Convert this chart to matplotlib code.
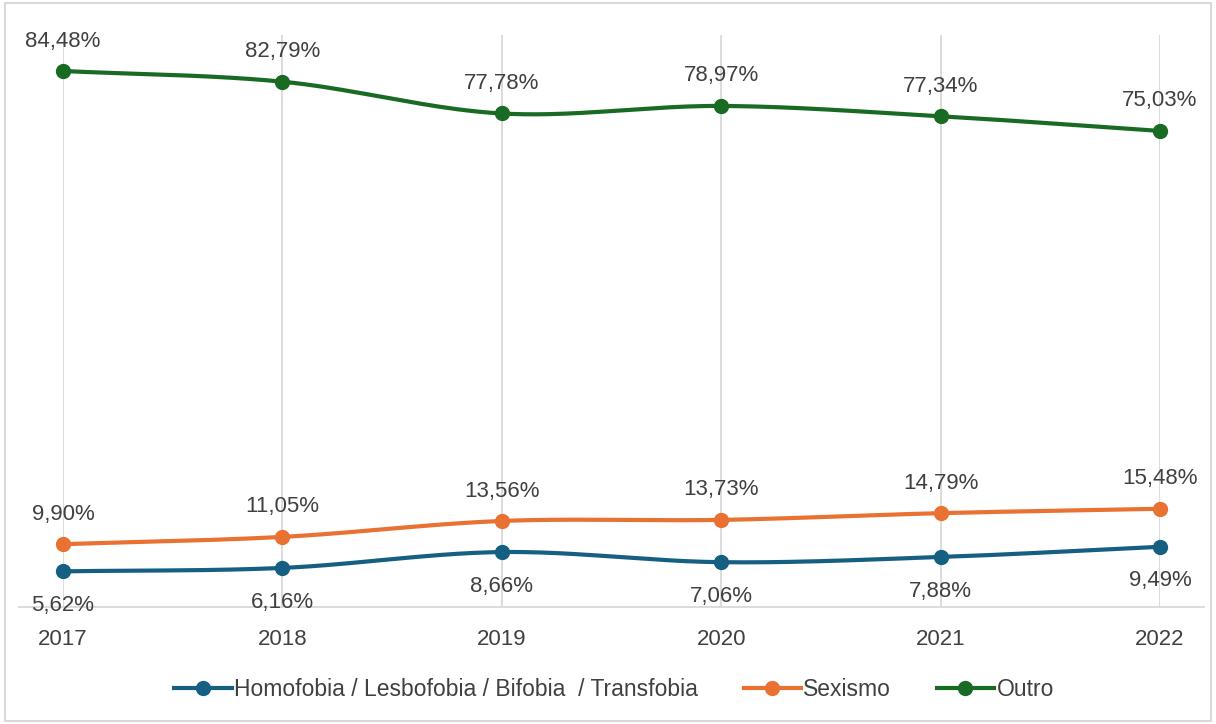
import numpy as np
import matplotlib
matplotlib.use("Agg")
from matplotlib import pyplot as plt

plt.rcParams['font.family'] = ['Liberation Sans', 'DejaVu Sans']

anos = ['2017', '2018', '2019', '2020', '2021', '2022']
homofobia = [5.62, 6.16, 8.66, 7.06, 7.88, 9.49]
sexismo = [9.90, 11.05, 13.56, 13.73, 14.79, 15.48]
outro = [84.48, 82.79, 77.78, 78.97, 77.34, 75.03]

nomes = ['Homofobia / Lesbofobia / Bifobia  / Transfobia', 'Sexismo', 'Outro']
cores = ['#156082', '#E97132', '#196B24']
texto = '#404040'


def suave(x, y, n=40):
    # curva tipo Catmull-Rom, como a linha suavizada do Excel
    x = np.asarray(x, float)
    y = np.asarray(y, float)
    px = np.concatenate([[2*x[0]-x[1]], x, [2*x[-1]-x[-2]]])
    py = np.concatenate([[2*y[0]-y[1]], y, [2*y[-1]-y[-2]]])
    xs, ys = [], []
    t = np.linspace(0, 1, n)
    for i in range(1, len(px)-2):
        for arr, out in ((px, xs), (py, ys)):
            p0, p1, p2, p3 = arr[i-1], arr[i], arr[i+1], arr[i+2]
            out.extend(0.5*((2*p1) + (-p0+p2)*t + (2*p0-5*p1+4*p2-p3)*t**2
                            + (-p0+3*p1-3*p2+p3)*t**3))
    return xs, ys


def fmt(v):
    return f'{v:.2f}%'.replace('.', ',')


fig = plt.figure(figsize=(12.16, 7.24), dpi=100)
ax = fig.add_axes([63/1216, 1-607/724, (1160-63)/1216, (607-35)/724])
x = np.arange(len(anos))

for serie, nome, cor in zip([homofobia, sexismo, outro], nomes, cores):
    sx, sy = suave(x, serie)
    ax.plot(sx, sy, color=cor, lw=3, clip_on=False, zorder=3)
    ax.plot(x, serie, 'o', color=cor, ms=10, clip_on=False, zorder=4)
    ax.plot([], [], '-o', color=cor, lw=3, ms=10, label=nome)

for i in x:
    ax.annotate(fmt(outro[i]), (i, outro[i]), xytext=(0, 14),
                textcoords='offset points', ha='center', va='bottom', fontsize=16,
                color=texto, zorder=5)
    ax.annotate(fmt(sexismo[i]), (i, sexismo[i]), xytext=(0, 14),
                textcoords='offset points', ha='center', va='bottom', fontsize=16,
                color=texto, zorder=5)
    ax.annotate(fmt(homofobia[i]), (i, homofobia[i]), xytext=(0, -17),
                textcoords='offset points', ha='center', va='top', fontsize=16,
                color=texto, zorder=5)

ax.set_xlim(0, 5)
ax.set_ylim(0, 90.15)
ax.set_xticks(x)
ax.set_xticklabels(anos, fontsize=16, color=texto)
ax.set_yticks([])
ax.tick_params(axis='x', length=0, pad=16)
ax.grid(axis='x', color='#D9D9D9', lw=1.3)
for s in ['top', 'left', 'right']:
    ax.spines[s].set_visible(False)
ax.spines['bottom'].set_color('#D9D9D9')
ax.spines['bottom'].set_linewidth(1.3)
ax.spines['bottom'].set_bounds(-0.2, 5.2)

fig.legend(loc='center', bbox_to_anchor=(614/1216, 1-690/724), ncol=3, frameon=False,
           fontsize=16.5, handlelength=2.5, handletextpad=0.1, columnspacing=2.0,
           labelcolor=texto)

fig.patches.append(plt.Rectangle((0.004, 0.004), 0.992, 0.992, transform=fig.transFigure,
                                 fill=False, edgecolor='#D9D9D9', lw=1.5))

plt.savefig('out.png', dpi=100)
